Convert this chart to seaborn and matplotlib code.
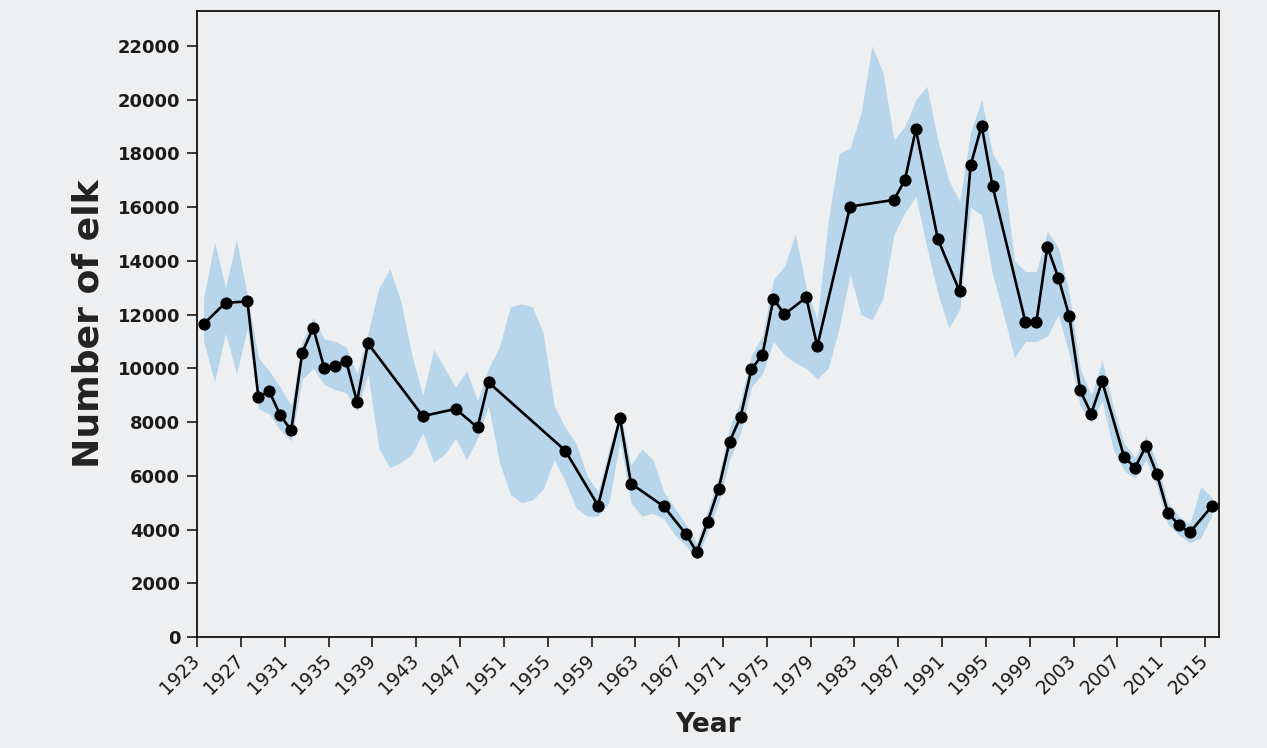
import numpy as np
import matplotlib
matplotlib.use("Agg")
import matplotlib.pyplot as plt
import seaborn as sns

# elk counts (years with a count)
years = [1923, 1925, 1927, 1928, 1929, 1930, 1931, 1932, 1933, 1934,
         1935, 1936, 1937, 1938, 1943, 1946, 1948, 1949, 1956, 1959,
         1961, 1962, 1965, 1967, 1968, 1969, 1970, 1971, 1972, 1973,
         1974, 1975, 1976, 1978, 1979, 1982, 1986, 1987, 1988, 1990,
         1992, 1993, 1994, 1995, 1998, 1999, 2000, 2001, 2002, 2003,
         2004, 2005, 2007, 2008, 2009, 2010, 2011, 2012, 2013, 2015]
counts = [11650, 12440, 12490, 8930, 9140, 8250, 7690, 10580, 11510, 10030,
          10100, 10280, 8760, 10930, 8220, 8490, 7800, 9480, 6940, 4890,
          8150, 5710, 4860, 3840, 3160, 4290, 5510, 7270, 8190, 9970,
          10500, 12590, 12010, 12640, 10820, 16020, 16270, 17010, 18900, 14820,
          12860, 17560, 19030, 16780, 11720, 11730, 14520, 13380, 11940, 9180,
          8310, 9510, 6710, 6300, 7110, 6060, 4630, 4170, 3890, 4860]

# uncertainty band, one value per year 1923-2015
band_years = list(range(1923, 2016))
band_low = [11000, 9500, 11300, 9800, 11500, 8500, 8300, 7700, 7300, 9600,
            10000, 9400, 9200, 9100, 8400, 9800, 7000, 6300, 6500, 6800,
            7600, 6500, 6800, 7400, 6600, 7400, 8600, 6500, 5300, 5000,
            5100, 5500, 6600, 5800, 4800, 4500, 4500, 5000, 7300, 5000,
            4500, 4600, 4400, 3800, 3400, 2900, 3900, 5000, 6600, 7600,
            9300, 9800, 11000, 10500, 10200, 10000, 9600, 10000, 11500, 13500,
            12000, 11800, 12600, 15000, 15800, 16400, 14500, 12800, 11500, 12200,
            16000, 15700, 13500, 12000, 10400, 11000, 11000, 11200, 12000, 10500,
            8600, 8000, 8800, 7000, 6200, 5900, 6600, 5600, 4200, 3800,
            3500, 3700, 4500]
band_high = [12600, 14700, 13000, 14800, 12700, 10400, 9900, 9300, 8600, 11000,
             11900, 11100, 11000, 10800, 9800, 11300, 13000, 13700, 12500, 10500,
             9000, 10700, 10000, 9300, 9900, 8800, 10000, 10800, 12300, 12400,
             12300, 11300, 8600, 7800, 7200, 6000, 5400, 7000, 8400, 6400,
             7000, 6600, 5400, 4800, 4200, 3500, 4700, 6000, 7800, 8800,
             10500, 11200, 13300, 13800, 15000, 13000, 11800, 15500, 18000, 18200,
             19500, 22000, 21000, 18500, 19000, 20000, 20500, 18500, 17000, 16200,
             18800, 20000, 18000, 17300, 14000, 13600, 13600, 15100, 14500, 12800,
             10000, 9000, 10300, 8600, 7200, 6700, 7500, 6500, 5000, 4500,
             4200, 5600, 5200]

tick_years = list(range(1923, 2016, 4))
y_ticks = list(range(0, 22001, 2000))

sns.set_style("ticks")
plt.rcParams['font.family'] = ['DejaVu Sans']

paper = '#edeff1'
fig = plt.figure(figsize=(12.67, 7.48), dpi=100, facecolor=paper)
ax = fig.add_axes([0.1555, 0.1484, 0.8065, 0.8369])
ax.set_facecolor(paper)

# band first, then the counted line on top
ax.fill_between(band_years, band_low, band_high, color='#b8d6eb', linewidth=0, zorder=1)
sns.lineplot(x=years, y=counts, ax=ax, color='black', linewidth=1.9,
             marker='o', markersize=8, markeredgecolor='black', zorder=3)

# category-style axis: tick for each label sits 0.6 yr left of its data year
ax.set_xlim(1922.4, 2015.65)
ax.set_ylim(0, 23300)
ax.set_xticks([t - 0.6 for t in tick_years])
ax.set_xticklabels([str(t) for t in tick_years], rotation=45, ha='right',
                   va='center', rotation_mode='anchor', fontsize=13.5, color='#1a1a1a')
ax.set_yticks(y_ticks)
ax.set_yticklabels([str(v) for v in y_ticks], fontsize=13, fontweight='bold',
                   color='#1a1a1a')
ax.tick_params(axis='x', length=7, width=1.2, pad=8, colors='#1a1a1a')
ax.tick_params(axis='y', length=7, width=1.2, pad=5, colors='#1a1a1a')

for s in ax.spines.values():
    s.set_color('#111111')
    s.set_linewidth(1.3)

ax.set_xlabel('Year', fontsize=19, fontweight='bold', color='#222222', labelpad=10)
ax.set_ylabel('Number of elk', fontsize=26, fontweight='bold', color='#222222', labelpad=9)

plt.savefig('out.png', dpi=100, facecolor=paper)
